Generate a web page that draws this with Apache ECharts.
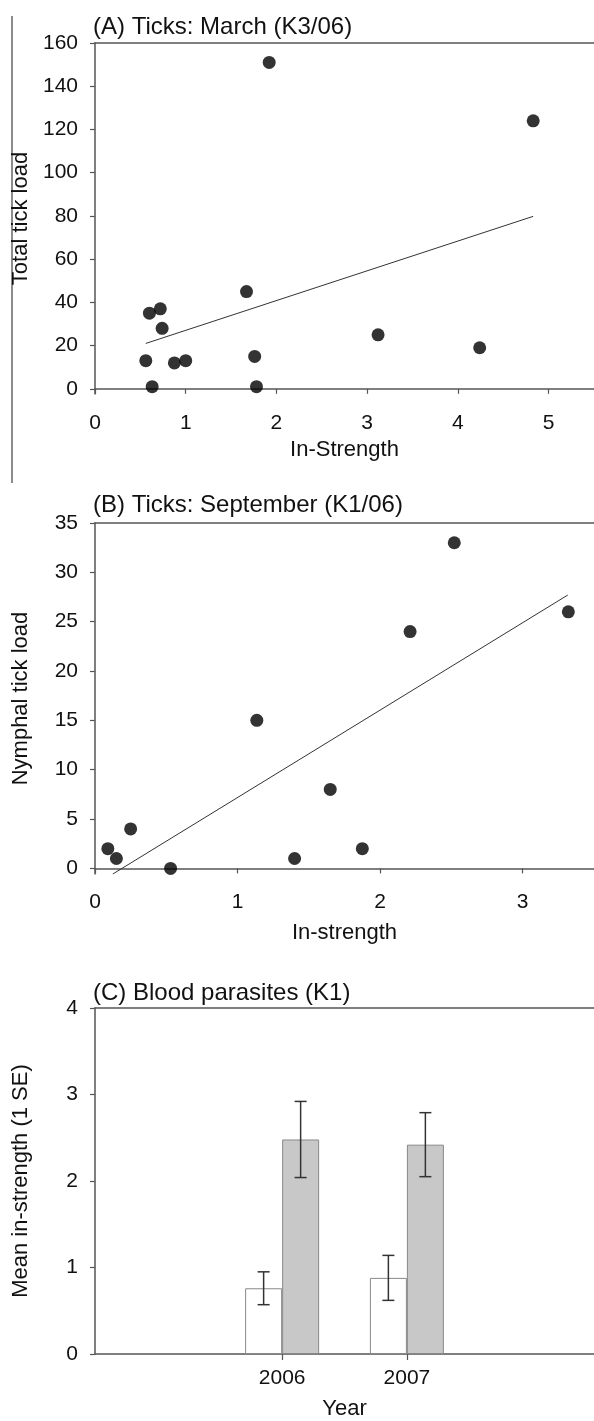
<!doctype html>
<html>
<head>
<meta charset="UTF-8">
<title>In-strength and parasite load</title>
<script src="https://cdn.jsdelivr.net/npm/echarts@6/dist/echarts.min.js"></script>
<style>
  html, body { margin: 0; padding: 0; background: #fff; }
  #main { width: 594px; height: 1421px; }
</style>
</head>
<body>
<div id="main"></div>
<script>
// (A) total tick load vs in-strength, March
var strengthA = [1.92, 4.83, 1.67, 0.60, 0.72, 0.74, 0.56, 0.875, 1.0, 0.63, 1.76, 1.78, 3.12, 4.24];
var ticksA = [151, 124, 45, 35, 37, 28, 13, 12, 13, 1, 15, 1, 25, 19];
var trendAx = [0.56, 4.83];
var trendAy = [21, 79.8];
var xTicksA = [0, 1, 2, 3, 4, 5];
var yTicksA = [0, 20, 40, 60, 80, 100, 120, 140, 160];

// (B) nymphal tick load vs in-strength, September
var strengthB = [0.09, 0.15, 0.25, 0.53, 1.135, 1.40, 1.65, 1.875, 2.21, 2.52, 3.32];
var ticksB = [2, 1, 4, 0, 15, 1, 8, 2, 24, 33, 26];
var trendBx = [0.125, 3.316];
var trendBy = [-0.57, 27.7];
var xTicksB = [0, 1, 2, 3];
var yTicksB = [0, 5, 10, 15, 20, 25, 30, 35];

// (C) blood parasites: mean in-strength +- 1 SE
var years = ['', '2006', '2007', ''];
var meanWhite = [null, 0.76, 0.88, null];
var seWhite = [null, 0.19, 0.26, null];
var meanGray = [null, 2.48, 2.42, null];
var seGray = [null, 0.44, 0.37, null];

var ink = '#111';
var lineCol = '#555';
var barW = 37;

function pairs(xs, ys) {
    return xs.map(function (x, i) { return [x, ys[i]]; });
}

function errData(means, ses) {
    var out = [];
    means.forEach(function (m, i) {
        if (m !== null) out.push([i, m, ses[i]]);
    });
    return out;
}

function errBar(offset) {
    return function (params, api) {
        var lo = api.coord([api.value(0), api.value(1) - api.value(2)]);
        var hi = api.coord([api.value(0), api.value(1) + api.value(2)]);
        var x = lo[0] + offset;
        var st = { stroke: '#333', lineWidth: 1.5 };
        return {
            type: 'group',
            children: [
                { type: 'line', shape: { x1: x, y1: lo[1], x2: x, y2: hi[1] }, style: st },
                { type: 'line', shape: { x1: x - 6, y1: lo[1], x2: x + 6, y2: lo[1] }, style: st },
                { type: 'line', shape: { x1: x - 6, y1: hi[1], x2: x + 6, y2: hi[1] }, style: st }
            ]
        };
    };
}

function valueX(grid, max, ticks, margin, name, nameGap) {
    return {
        type: 'value', gridIndex: grid, min: 0, max: max,
        name: name, nameLocation: 'middle', nameGap: nameGap,
        nameTextStyle: { fontSize: 22, color: ink },
        axisLine: { show: true, lineStyle: { color: lineCol, width: 1.5 } },
        axisTick: { show: true, length: 5, customValues: ticks, lineStyle: { color: lineCol, width: 1.2 } },
        axisLabel: { customValues: ticks, fontSize: 21, color: ink, margin: margin },
        splitLine: { show: false }
    };
}

function topLine(grid) {
    return {
        type: 'value', gridIndex: grid, position: 'top', min: 0, max: 1,
        axisLine: { show: true, onZero: false, lineStyle: { color: lineCol, width: 1.5 } },
        axisTick: { show: false }, axisLabel: { show: false }, splitLine: { show: false }
    };
}

function valueY(grid, min, max, ticks, name) {
    return {
        type: 'value', gridIndex: grid, min: min, max: max,
        name: name, nameLocation: 'middle', nameGap: 63,
        nameTextStyle: { fontSize: 22, color: ink },
        axisLine: { show: true, onZero: false, lineStyle: { color: lineCol, width: 1.5 } },
        axisTick: { show: true, length: 5, customValues: ticks, lineStyle: { color: lineCol, width: 1.2 } },
        axisLabel: { customValues: ticks, fontSize: 21, color: ink, margin: 17 },
        splitLine: { show: false }
    };
}

var chart = echarts.init(document.getElementById('main'));

var option = {
    animation: false,
    backgroundColor: '#fff',
    textStyle: { fontFamily: 'Liberation Sans, Arial, sans-serif' },
    title: [
        { text: '(A) Ticks: March (K3/06)', left: 93, top: 15, padding: 0,
          textStyle: { fontSize: 24, fontWeight: 'normal', color: ink } },
        { text: '(B) Ticks: September (K1/06)', left: 93, top: 493, padding: 0,
          textStyle: { fontSize: 24, fontWeight: 'normal', color: ink } },
        { text: '(C) Blood parasites (K1)', left: 93, top: 981, padding: 0,
          textStyle: { fontSize: 24, fontWeight: 'normal', color: ink } }
    ],
    grid: [
        { left: 95, top: 43, right: 0, height: 351 },
        { left: 95, top: 523, right: 0, height: 351 },
        { left: 95, top: 1008, right: 0, height: 349 }
    ],
    xAxis: [
        valueX(0, 5.5, xTicksA, 19, 'In-Strength', 45),
        topLine(0),
        valueX(1, 3.5, xTicksB, 18, 'In-strength', 48),
        topLine(1),
        {
            type: 'category', gridIndex: 2, data: years, boundaryGap: true,
            name: 'Year', nameLocation: 'middle', nameGap: 44,
            nameTextStyle: { fontSize: 22, color: ink },
            axisLine: { show: true, lineStyle: { color: lineCol, width: 1.5 } },
            axisTick: {
                show: true, length: 6, alignWithLabel: true,
                interval: function (i, v) { return v !== ''; },
                lineStyle: { color: lineCol, width: 1.2 }
            },
            axisLabel: { interval: 0, fontSize: 21, color: ink, margin: 14 }
        },
        topLine(2)
    ],
    yAxis: [
        valueY(0, -2.4, 160, yTicksA, 'Total tick load'),
        valueY(1, -0.57, 35, yTicksB, 'Nymphal tick load'),
        valueY(2, 0, 4, [0, 1, 2, 3, 4], 'Mean in-strength (1 SE)')
    ],
    graphic: [
        { type: 'line', shape: { x1: 12, y1: 16, x2: 12, y2: 483 },
          style: { stroke: '#666', lineWidth: 1.5 } }
    ],
    series: [
        { type: 'scatter', xAxisIndex: 0, yAxisIndex: 0, data: pairs(strengthA, ticksA),
          symbolSize: 13, itemStyle: { color: '#000' }, z: 3 },
        { type: 'line', xAxisIndex: 0, yAxisIndex: 0, data: pairs(trendAx, trendAy),
          symbol: 'none', lineStyle: { color: '#333', width: 1 } },
        { type: 'scatter', xAxisIndex: 2, yAxisIndex: 1, data: pairs(strengthB, ticksB),
          symbolSize: 13, itemStyle: { color: '#000' }, z: 3 },
        { type: 'line', xAxisIndex: 2, yAxisIndex: 1, data: pairs(trendBx, trendBy),
          symbol: 'none', lineStyle: { color: '#333', width: 1 } },
        { type: 'bar', xAxisIndex: 4, yAxisIndex: 2, data: meanWhite, barWidth: barW, barGap: '0%',
          itemStyle: { color: '#fff', borderColor: '#888', borderWidth: 1 } },
        { type: 'bar', xAxisIndex: 4, yAxisIndex: 2, data: meanGray, barWidth: barW, barGap: '0%',
          itemStyle: { color: '#c8c8c8', borderColor: '#888', borderWidth: 1 } },
        { type: 'custom', xAxisIndex: 4, yAxisIndex: 2, data: errData(meanWhite, seWhite),
          renderItem: errBar(-barW / 2), z: 5 },
        { type: 'custom', xAxisIndex: 4, yAxisIndex: 2, data: errData(meanGray, seGray),
          renderItem: errBar(barW / 2), z: 5 }
    ]
};

chart.setOption(option);
</script>
</body>
</html>
